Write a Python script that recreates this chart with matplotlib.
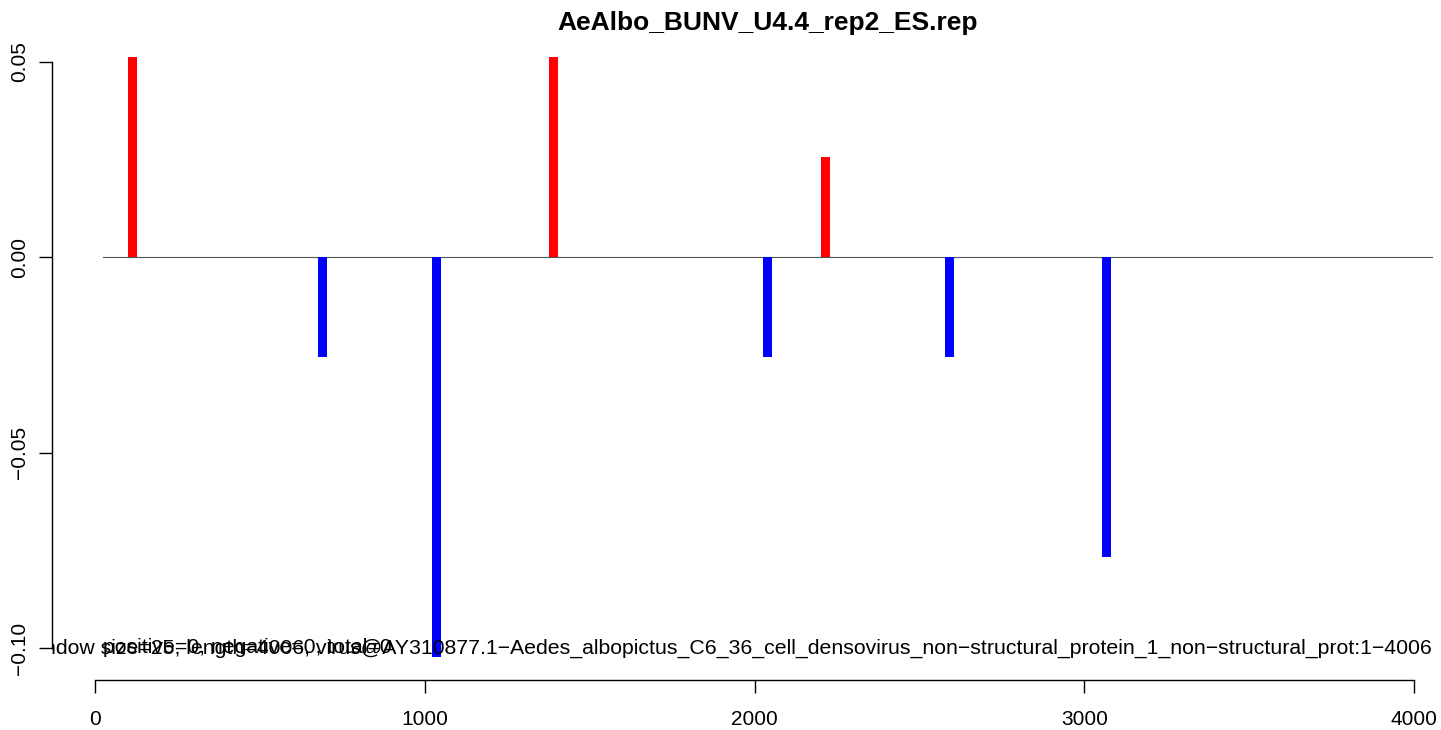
import matplotlib
matplotlib.use("Agg")
import matplotlib.pyplot as plt

plt.rcParams['font.family'] = ['Liberation Sans', 'DejaVu Sans']

# ---- data ----
title = "AeAlbo_BUNV_U4.4_rep2_ES.rep"
positions = [113, 690, 1037, 1390, 2038, 2215, 2590, 3066]
values = [0.0512, -0.0256, -0.1023, 0.0512, -0.0256, 0.0256, -0.0256, -0.0768]
x_ticks = [0, 1000, 2000, 3000, 4000]
y_ticks = [-0.10, -0.05, 0.00, 0.05]
y_tick_labels = ["\u22120.10", "\u22120.05", "0.00", "0.05"]
zero_line_start, zero_line_end = 25, 4055
info_right = ("window size=25, length=4006, virus@AY310877.1\u2212Aedes_albopictus_C6_36_cell_"
              "densovirus_non\u2212structural_protein_1_non\u2212structural_prot:1\u22124006")
info_left = "positive=0, negative=0, total=0"

# ---- layout (pixel mapping) ----
W, H = 1441, 730
px_x0, px_per_x = 95.0, (1414 - 95) / 4000.0
px_y0, px_per_y = 257.3, (648 - 62) / 0.15
left_px = 52

fig = plt.figure(figsize=(W / 100, H / 100), dpi=100)
ax = fig.add_axes([left_px / W, 0, (W - left_px) / W, 1])
ax.set_xlim((left_px - px_x0) / px_per_x, (W - px_x0) / px_per_x)
ax.set_ylim(-(H - px_y0) / px_per_y, px_y0 / px_per_y)
ax.patch.set_alpha(0)

colors = ['#ff0000' if v > 0 else '#0000ff' for v in values]
ax.bar(positions, values, width=9 / px_per_x, color=colors, linewidth=0, zorder=2)
ax.plot([zero_line_start, zero_line_end], [0, 0], color='#555555', lw=0.8, zorder=1)

fs = 15
ax.text(zero_line_end, -0.10, info_right, ha='right', va='center', fontsize=15.33, clip_on=True)
ax.text(zero_line_start, -0.10, info_left, ha='left', va='center', fontsize=15.33, clip_on=True)

for s in ['top', 'right']:
    ax.spines[s].set_visible(False)
ax.spines['left'].set_bounds(-0.10, 0.05)
ax.spines['left'].set_linewidth(1.0)
ax.spines['bottom'].set_position(('data', -(680 - px_y0) / px_per_y))
ax.spines['bottom'].set_bounds(0, 4000)
ax.spines['bottom'].set_linewidth(1.0)

ax.set_xticks(x_ticks)
ax.set_xticklabels([str(t) for t in x_ticks], fontsize=fs)
ax.set_yticks(y_ticks)
ax.set_yticklabels(y_tick_labels, fontsize=fs, rotation=90, va='center')
ax.tick_params(axis='both', direction='out', length=9.4, width=1.0)
ax.tick_params(axis='x', pad=12)
ax.tick_params(axis='y', pad=7)

fig.text((left_px + 1484) / 2 / W, 1 - 23 / H, title, ha='center', va='center',
         fontsize=19, fontweight='bold')

fig.savefig("out.png", dpi=100)
